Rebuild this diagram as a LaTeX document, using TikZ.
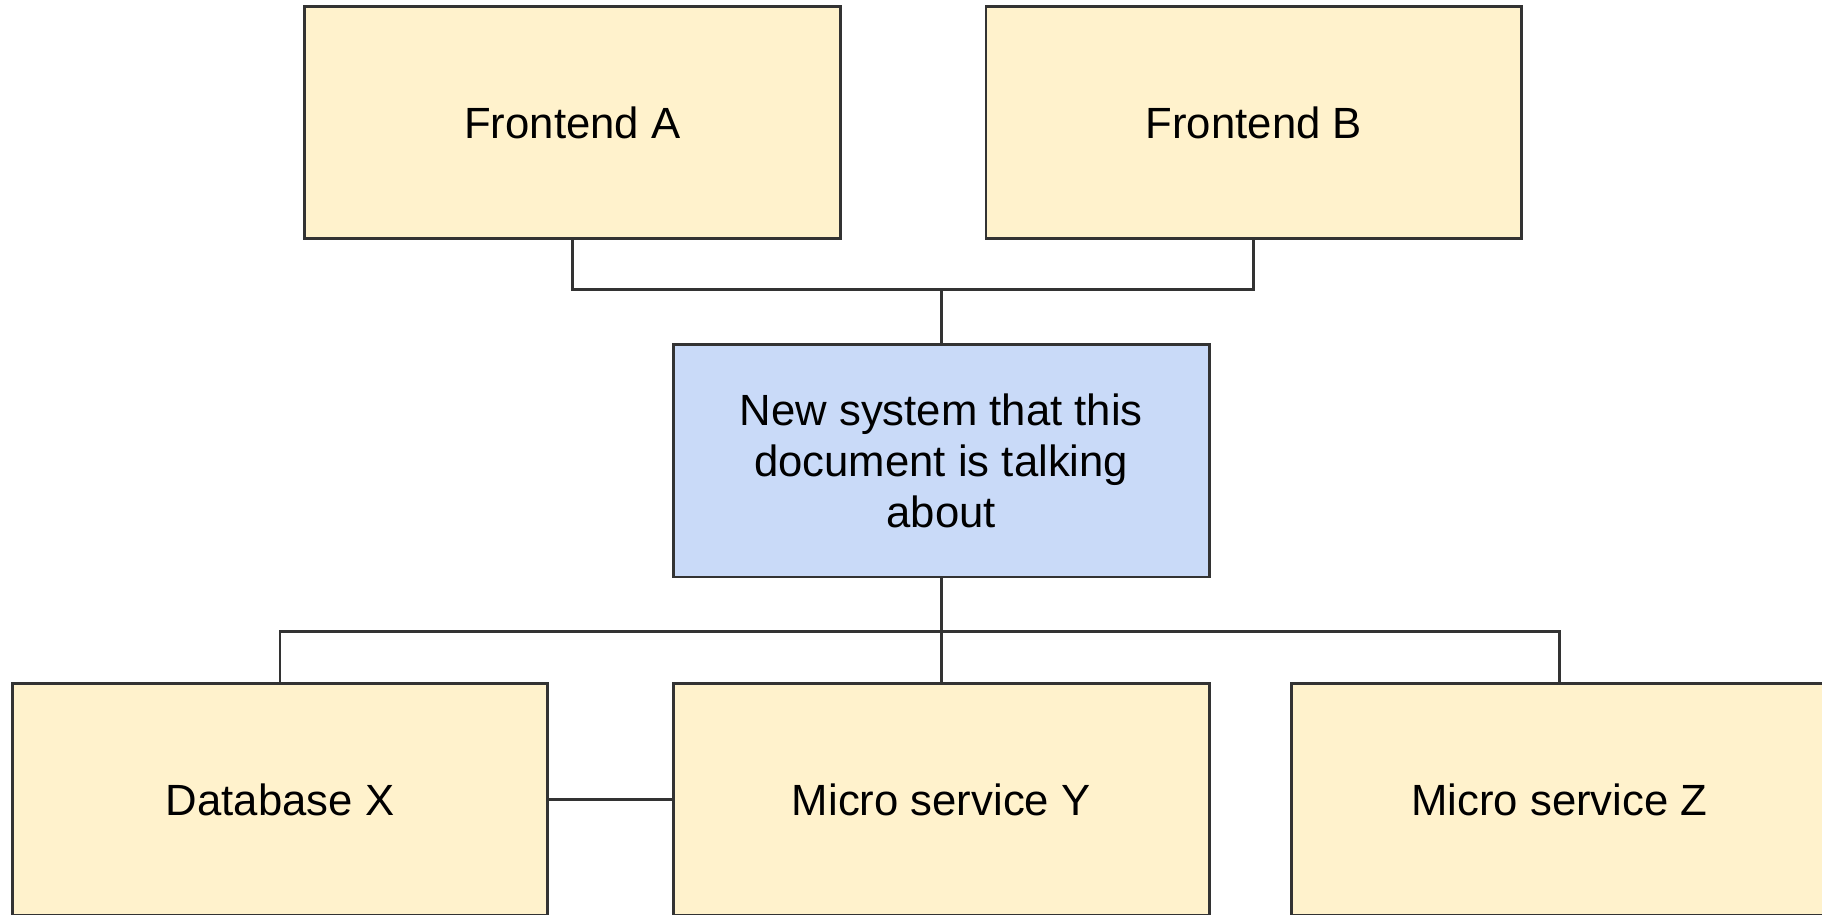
\documentclass[tikz,border=0pt]{standalone}
\usepackage{fontspec}
\setmainfont{Liberation Sans}
\usetikzlibrary{positioning}
\definecolor{paleyellow}{HTML}{FFF2CC}
\definecolor{paleblue}{HTML}{C9DAF8}
\definecolor{edgegray}{HTML}{333333}
\begin{document}
\begin{tikzpicture}[box/.style={rectangle,draw=edgegray,line width=0.7pt,fill=paleyellow,
        minimum width=4.61cm,minimum height=2.0cm,inner sep=0pt,align=center,
        font=\fontsize{10.7}{12.5}\selectfont},
        link/.style={draw=edgegray,line width=0.7pt}]
        \useasboundingbox (0,0) rectangle (15.68,-7.87);
        \clip (0,0) rectangle (15.68,-7.87);
        \node[box] (fa) at (4.925,-1.055) {Frontend A};
        \node[box] (fb) at (10.79,-1.055) {Frontend B};
        \node[box,fill=paleblue] (sys) at (8.10,-3.965) {New system that this\\document is talking\\about};
        \node[box] (db) at (2.41,-6.88) {Database X};
        \node[box] (msy) at (8.10,-6.88) {Micro service Y};
        \node[box] (msz) at (13.42,-6.88) {Micro service Z};
        \coordinate (topbus) at ([yshift=0.46cm]sys.north);
        \coordinate (botbus) at ([yshift=-0.46cm]sys.south);
        \draw[link] (fa.south) |- (topbus) -| (fb.south);
        \draw[link] (topbus) -- (sys.north);
        \draw[link] (sys.south) -- (msy.north);
        \draw[link] (db.north) |- (botbus) -| (msz.north);
        \draw[link] (db.east) -- (msy.west);
      \end{tikzpicture}
\end{document}
